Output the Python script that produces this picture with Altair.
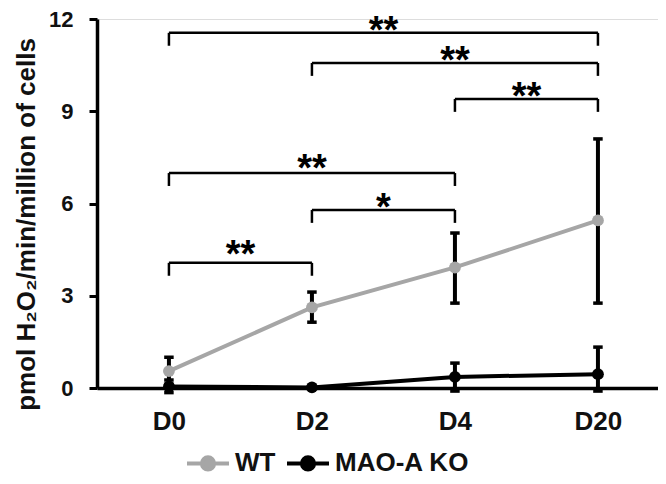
import altair as alt
import pandas as pd

# ---------------- data ----------------
days = ["D0", "D2", "D4", "D20"]
day_idx = [0, 1, 2, 3]

wt_mean = [0.55, 2.62, 3.92, 5.45]
wt_lo = [0.10, 2.14, 2.76, 2.76]
wt_hi = [1.00, 3.12, 5.04, 8.10]

ko_mean = [0.05, 0.02, 0.36, 0.45]
ko_lo = [-0.15, 0.02, -0.10, -0.10]
ko_hi = [0.26, 0.02, 0.81, 1.33]

series_names = ["WT", "MAO-A KO"]
series_colors = ["#a6a6a6", "#000000"]

# significance brackets: left day index, right day index, level, label, star centre
br_left = [0, 1, 2, 0, 1, 0]
br_right = [3, 3, 3, 2, 2, 1]
br_level = [11.55, 10.57, 9.40, 6.99, 5.79, 4.07]
br_label = ["**", "**", "**", "**", "*", "**"]
br_star = [11.93, 10.96, 9.79, 7.45, 6.18, 4.65]
br_drop = 0.42

y_ticks = [0, 3, 6, 9, 12]

# ---------------- frames ----------------
rows = []
for name, m, lo, hi in [("WT", wt_mean, wt_lo, wt_hi), ("MAO-A KO", ko_mean, ko_lo, ko_hi)]:
    for i, d in enumerate(day_idx):
        rows.append({"day": d, "series": name, "mean": m[i], "lo": lo[i], "hi": hi[i]})
df = pd.DataFrame(rows)

br = pd.DataFrame({
    "left": br_left, "right": br_right, "level": br_level,
    "label": br_label, "star": br_star,
})
br["bottom"] = br["level"] - br_drop
br["mid"] = (br["left"] + br["right"]) / 2

FONT = "Liberation Sans"

label_expr = "[" + ",".join("'%s'" % d for d in days) + "][datum.value]"

xscale = alt.Scale(domain=[-0.503, 3.42], nice=False, zero=False)
yscale = alt.Scale(domain=[0, 12], nice=False, zero=False)

x_enc = alt.X("day:Q", scale=xscale,
              axis=alt.Axis(values=day_idx, labelExpr=label_expr, title=None,
                            ticks=False, grid=False, labelFontSize=26,
                            labelFontWeight="bold", labelPadding=20,
                            domainWidth=3.5, domainColor="black",
                            labelColor="#111111", labelFont=FONT))
y_title = "pmol H\u2082O\u2082/min/million of cells"
y_enc = alt.Y("mean:Q", scale=yscale,
              axis=alt.Axis(values=y_ticks, title=y_title, grid=False,
                            tickSize=8, tickWidth=3, tickColor="black",
                            domainWidth=3.5, domainColor="black",
                            labelFontSize=22, labelFontWeight="bold",
                            labelPadding=16, labelColor="#111111", labelFont=FONT,
                            titleFontSize=26, titleFontWeight="bold",
                            titleFont=FONT, titleColor="#111111",
                            titleAngle=-90, titleX=-71, titleY=205,
                            titleAlign="center", titleBaseline="middle"))

base = alt.Chart(df)

color_scale = alt.Scale(domain=series_names, range=series_colors)
legend = alt.Legend(
    title=None, orient="none", direction="horizontal",
    legendX=88, legendY=421,
    symbolType="M-1,0L1,0M0.29,0A0.29,0.29,0,1,1,-0.29,0A0.29,0.29,0,1,1,0.29,0Z",
    symbolSize=1764, symbolStrokeWidth=4,
    labelFontSize=26, labelFontWeight="bold", labelFont=FONT,
    labelColor="#111111", labelOffset=4, columnPadding=3,
)

err = base.mark_rule(strokeWidth=4, color="black").encode(
    x=x_enc, y=alt.Y("lo:Q", scale=yscale), y2="hi:Q")

cap_lo = base.mark_point(shape="M-1,0L1,0", size=90, strokeWidth=3.5,
                         color="black", filled=False, opacity=1).encode(
    x="day:Q", y=alt.Y("lo:Q", scale=yscale))
cap_hi = base.mark_point(shape="M-1,0L1,0", size=90, strokeWidth=3.5,
                         color="black", filled=False, opacity=1).encode(
    x="day:Q", y=alt.Y("hi:Q", scale=yscale))

lines = base.mark_line(strokeWidth=4).encode(
    x="day:Q", y=y_enc,
    stroke=alt.Stroke("series:N", scale=color_scale, legend=legend),
    order=alt.Order("day:Q"),
    detail="series:N",
)
points = base.mark_circle(size=140, opacity=1).encode(
    x="day:Q", y="mean:Q",
    fill=alt.Fill("series:N", scale=color_scale, legend=legend),
)

bb = alt.Chart(br)
br_h = bb.mark_rule(strokeWidth=2.5, color="black").encode(
    x="left:Q", x2="right:Q", y=alt.Y("level:Q", scale=yscale))
br_l = bb.mark_rule(strokeWidth=2.5, color="black").encode(
    x="left:Q", y=alt.Y("level:Q", scale=yscale), y2="bottom:Q")
br_r = bb.mark_rule(strokeWidth=2.5, color="black").encode(
    x="right:Q", y=alt.Y("level:Q", scale=yscale), y2="bottom:Q")
stars = bb.mark_text(fontSize=38, fontWeight="bold", font=FONT, color="black",
                     baseline="alphabetic", dy=22).encode(
    x="mid:Q", y=alt.Y("star:Q", scale=yscale), text="label:N")

chart = alt.layer(
    err, cap_lo, cap_hi, lines, points, br_h, br_l, br_r, stars
).properties(
    width=561, height=369,
    autosize=alt.AutoSizeParams(type="none"),
    padding={"left": 89, "top": 11, "right": 0, "bottom": 88},
).configure_view(stroke=None).configure(background="white")

chart.save("out.html", embed_options={"renderer": "svg", "actions": False})
